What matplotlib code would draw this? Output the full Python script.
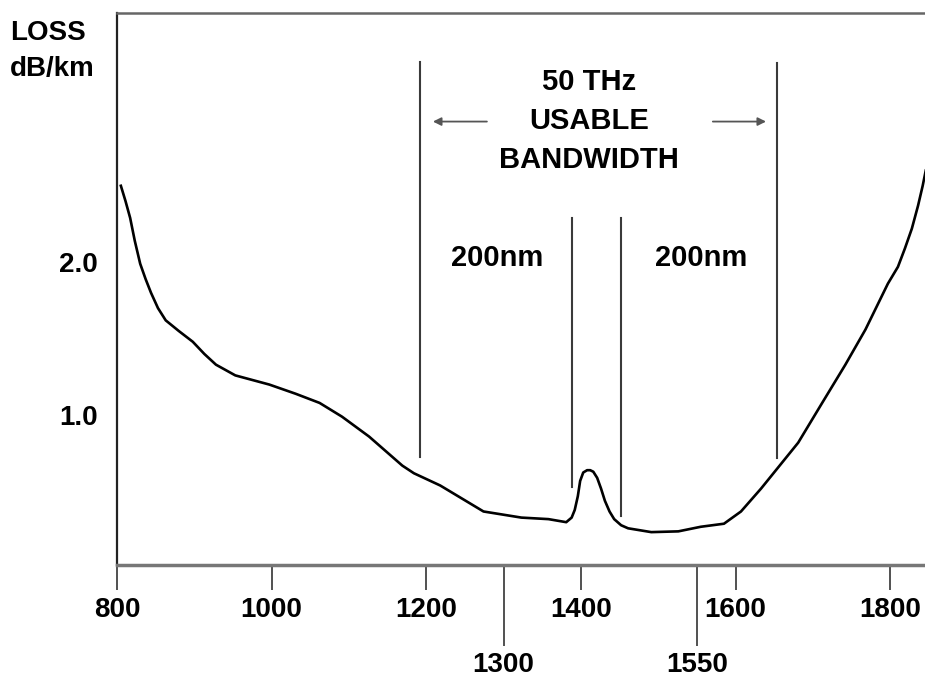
import matplotlib.pyplot as plt
import numpy as np

plt.rcParams['font.family'] = ['Liberation Sans', 'DejaVu Sans']
plt.rcParams['font.weight'] = 'bold'

# fibre loss curve (wavelength nm, loss dB/km)
wavelength = [805, 811, 817, 823, 830, 837, 844, 853, 863, 880, 898, 913, 928,
              953, 997, 1031, 1062, 1091, 1126, 1169, 1184, 1218, 1274, 1323,
              1358, 1381, 1388, 1392, 1396, 1399, 1403, 1408, 1412, 1416, 1421,
              1426, 1431, 1437, 1443, 1452, 1461, 1491, 1526, 1555, 1585, 1607,
              1633, 1681, 1712, 1742, 1768, 1797, 1810, 1819, 1828, 1836, 1842,
              1846]
loss = [2.50, 2.40, 2.29, 2.14, 1.99, 1.89, 1.80, 1.70, 1.62, 1.55, 1.48, 1.40,
        1.33, 1.26, 1.20, 1.14, 1.08, 0.99, 0.86, 0.67, 0.62, 0.54, 0.37, 0.33,
        0.32, 0.30, 0.33, 0.38, 0.47, 0.57, 0.625, 0.64, 0.64, 0.63, 0.59,
        0.52, 0.44, 0.37, 0.32, 0.28, 0.26, 0.235, 0.24, 0.27, 0.29, 0.37,
        0.52, 0.82, 1.08, 1.33, 1.56, 1.86, 1.97, 2.09, 2.22, 2.37, 2.50,
        2.60]

major_ticks = [800, 1000, 1200, 1400, 1600, 1800]
window_ticks = [1300, 1550]
y_ticks = [1.0, 2.0]

# vertical markers: (wavelength, bottom, top)
band_edges = [(1192, 0.725, 3.31), (1653, 0.72, 3.30)]
peak_edges = [(1389, 0.53, 2.29), (1452, 0.34, 2.29)]

fig = plt.figure(figsize=(9.25, 6.82), dpi=100)
ax = fig.add_axes([117/925, 1 - 565/682, 1 - 117/925, (565 - 13)/682])

ax.plot(wavelength, loss, color='black', lw=1.9, solid_joinstyle='round')

for x, y0, y1 in band_edges + peak_edges:
    ax.plot([x, x], [y0, y1], color='#3a3a3a', lw=1.5)

ax.annotate('', xy=(1205, 2.92), xytext=(1282, 2.92),
            arrowprops=dict(arrowstyle='-|>', color='#555555', lw=1.3,
                            mutation_scale=12))
ax.annotate('', xy=(1643, 2.92), xytext=(1567, 2.92),
            arrowprops=dict(arrowstyle='-|>', color='#555555', lw=1.3,
                            mutation_scale=12))

ax.text(1411, 3.176, '50 THz', ha='center', va='center', fontsize=21)
ax.text(1411, 2.922, 'USABLE', ha='center', va='center', fontsize=21)
ax.text(1411, 2.667, 'BANDWIDTH', ha='center', va='center', fontsize=21)
ax.text(1291, 2.026, '200nm', ha='center', va='center', fontsize=21)
ax.text(1555, 2.026, '200nm', ha='center', va='center', fontsize=21)

fig.text(10/925, 1 - 33/682, 'LOSS', ha='left', va='center', fontsize=20)
fig.text(10/925, 1 - 69/682, 'dB/km', ha='left', va='center', fontsize=20)

ax.set_xlim(800, 1845)
ax.set_ylim(0.02, 3.63)

ax.set_xticks(major_ticks)
ax.set_xticklabels([str(t) for t in major_ticks])
ax.set_xticks(window_ticks, minor=True)
ax.set_xticklabels([str(t) for t in window_ticks], minor=True)
ax.tick_params(axis='x', which='major', direction='out', length=18, width=1.2,
               color='#333333', labelsize=20, pad=5)
ax.tick_params(axis='x', which='minor', direction='out', length=58, width=1.2,
               color='#333333', labelsize=20, pad=5)

ax.set_yticks(y_ticks)
ax.set_yticklabels(['1.0', '2.0'])
ax.tick_params(axis='y', length=0, labelsize=20, pad=14)

ax.spines['right'].set_visible(False)
ax.spines['bottom'].set_color('#777777')
ax.spines['bottom'].set_linewidth(2.5)
ax.spines['top'].set_color('#666666')
ax.spines['top'].set_linewidth(1.8)
ax.spines['left'].set_color('#222222')
ax.spines['left'].set_linewidth(1.6)

fig.savefig('out.png', dpi=100)
